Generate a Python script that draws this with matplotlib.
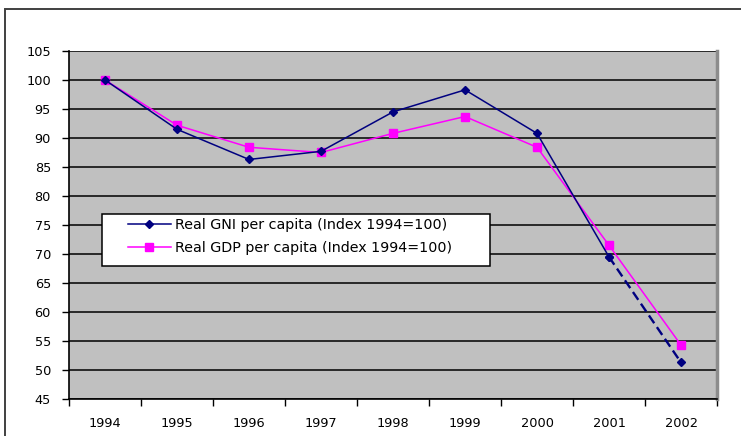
import matplotlib
matplotlib.use("Agg")
import matplotlib.pyplot as plt
from matplotlib.patches import Rectangle
from matplotlib.lines import Line2D

years = ["1994", "1995", "1996", "1997", "1998", "1999", "2000", "2001", "2002"]
gni = [100, 91.5, 86.3, 87.7, 94.5, 98.3, 90.8, 69.5, 51.3]
gdp = [100, 92.2, 88.4, 87.5, 90.8, 93.7, 88.4, 71.5, 54.3]
yticks = list(range(45, 106, 5))
series_names = ["Real GNI per capita (Index 1994=100)", "Real GDP per capita (Index 1994=100)"]

plt.rcParams['font.family'] = ['DejaVu Sans']
FS = 9.3
LFS = 10.3

W, H = 741, 436
fig = plt.figure(figsize=(W / 100, H / 100), dpi=100)
fig.patch.set_facecolor("white")

# outer frame
fig.patches.append(Rectangle((5 / W, -0.05), 1.2, 1 - 9 / H + 0.05, transform=fig.transFigure,
                             fill=False, edgecolor="#404040", linewidth=1.4))

top_px, bot_px, left_px, right_px = 51, 399, 69, 717
ax = fig.add_axes([left_px / W, 1 - bot_px / H, (right_px - left_px) / W, (bot_px - top_px) / H])
ax.set_facecolor("#C0C0C0")

x = list(range(len(years)))
ax.set_xlim(-0.5, len(years) - 0.5)
ax.set_ylim(45, 105)

for v in yticks:
    ax.axhline(v, color="black", linewidth=1.1, zorder=1)

navy = "#000080"
mag = "#FF00FF"
ax.plot(x, gdp, color=mag, linewidth=1.1, marker="s", markersize=6, zorder=3)
ax.plot(x[:-1], gni[:-1], color=navy, linewidth=1.1, marker="D", markersize=4.5, zorder=4)
ax.plot(x[-2:], gni[-2:], color=navy, linewidth=1.7, linestyle=(0, (4, 2)), marker="D",
        markersize=4.5, zorder=4)

ax.set_yticks(yticks)
ax.set_yticklabels([str(v) for v in yticks], fontsize=FS)
ax.set_xticks(x)
ax.set_xticklabels(years, fontsize=FS)
ax.set_xticks([i - 0.5 for i in range(len(years) + 1)], minor=True)
ax.tick_params(axis="x", which="major", length=0, pad=13)
ax.tick_params(axis="x", which="minor", length=5, width=1, direction="out")
ax.tick_params(axis="y", length=5, width=1, direction="out", pad=8)

for s in ["left", "bottom"]:
    ax.spines[s].set_color("black")
    ax.spines[s].set_linewidth(1.2)
ax.spines["top"].set_visible(False)
ax.spines["right"].set_color("#8c8c8c")
ax.spines["right"].set_linewidth(2.5)

# legend frame (pixel box 102..490 x 214..266)
ax.add_patch(Rectangle((102 / W, 1 - 266 / H), (490 - 102) / W, 52 / H, transform=fig.transFigure,
                       facecolor="white", edgecolor="black", linewidth=1.1, zorder=5))

handles = [Line2D([], [], color=navy, marker="D", markersize=4.5, linewidth=1.1),
           Line2D([], [], color=mag, marker="s", markersize=6, linewidth=1.1)]
leg = ax.legend(handles, series_names,
                loc="upper left", bbox_to_anchor=(128 / W, 1 - 218.5 / H),
                bbox_transform=fig.transFigure,
                fontsize=LFS, frameon=False, handlelength=3.0, handletextpad=0.3,
                borderpad=0, labelspacing=0.58, borderaxespad=0)
leg.set_zorder(6)

fig.savefig("out.png", dpi=100)
